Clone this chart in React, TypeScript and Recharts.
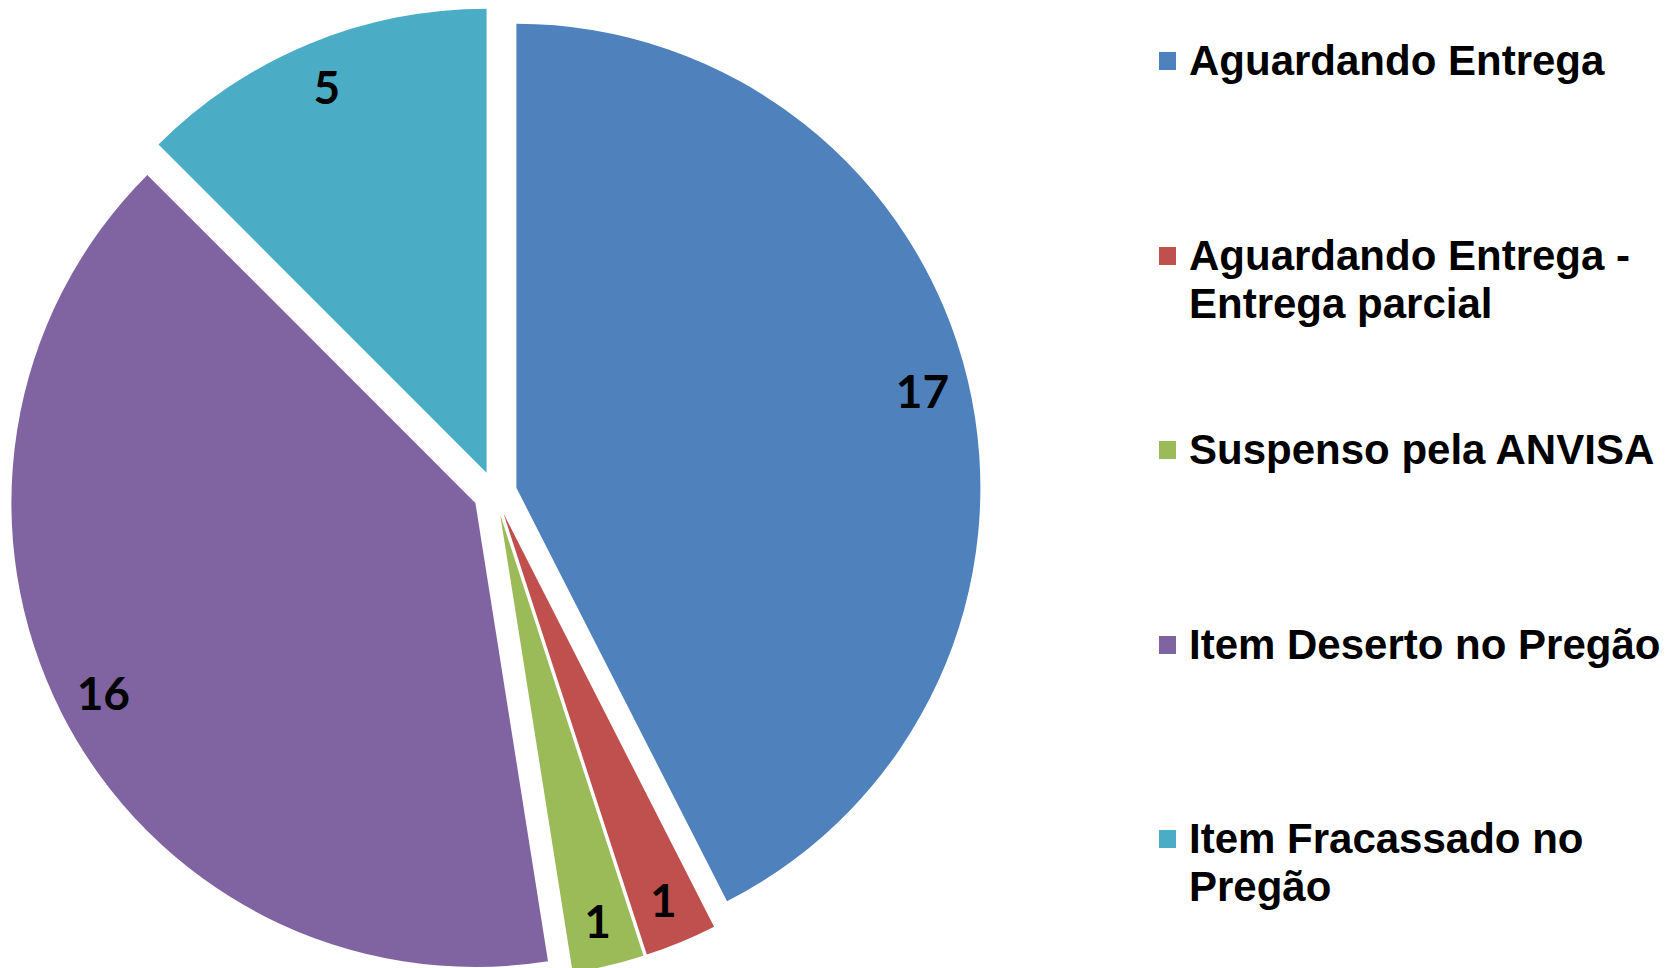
import React from 'react';
import { PieChart, Pie, Cell, Sector, Legend } from 'recharts';

const categories = [
    'Aguardando Entrega',
    'Aguardando Entrega - Entrega parcial',
    'Suspenso pela ANVISA',
    'Item Deserto no Pregão',
    'Item Fracassado no Pregão',
];
const counts = [17, 1, 1, 16, 5];
const colors = ['#4F81BD', '#C0504D', '#9BBB59', '#8064A2', '#4BACC6'];

const chartData = categories.map((name, i) => ({ name, value: counts[i] }));

const RAD = Math.PI / 180;
const EXPLODE = 22;

const ExplodedSector = (props: any) => {
    const { cx, cy, midAngle } = props;
    const dx = EXPLODE * Math.cos(-midAngle * RAD);
    const dy = EXPLODE * Math.sin(-midAngle * RAD);
    return <Sector {...props} cx={cx + dx} cy={cy + dy} stroke="none" />;
};

const renderLabel = (props: any) => {
    const { cx, cy, midAngle, outerRadius, value } = props;
    const r = outerRadius * 0.9 + EXPLODE;
    const x = cx + r * Math.cos(-midAngle * RAD);
    const y = cy + r * Math.sin(-midAngle * RAD);
    return (
        <text
            x={x}
            y={y}
            textAnchor="middle"
            dominantBaseline="central"
            fill="#000"
            style={{ fontFamily: 'Lato, sans-serif', fontWeight: 700, fontSize: 46 }}
        >
            {value}
        </text>
    );
};

// keep legend in data order (recharts 3 sorts by name otherwise)
const renderLegend = (props: any) => {
    const items = [...(props.payload || [])].sort(
        (a: any, b: any) => categories.indexOf(a.value) - categories.indexOf(b.value)
    );
    return (
        <div style={{ fontFamily: '"Liberation Sans", Arial, sans-serif', fontWeight: 700, fontSize: 42 }}>
            {items.map((entry: any, i: number) => (
                <div key={i} style={{ height: 194.5, display: 'flex', alignItems: 'flex-start' }}>
                    <span
                        style={{
                            width: 17,
                            height: 18,
                            background: entry.color,
                            marginTop: 15,
                            marginRight: 13,
                            flex: '0 0 auto',
                        }}
                    />
                    <span style={{ lineHeight: '48px', width: 481, color: '#000' }}>{entry.value}</span>
                </div>
            ))}
        </div>
    );
};

export default function App() {
    return (
        <div style={{ position: 'absolute', left: 0, top: 0, width: 1670, height: 968, background: '#fff' }}>
            <PieChart width={1670} height={968} margin={{ top: 0, right: 0, bottom: 0, left: 0 }}>
                <Pie
                    data={chartData}
                    dataKey="value"
                    nameKey="name"
                    cx={495}
                    cy={493}
                    outerRadius={464}
                    startAngle={90}
                    endAngle={-270}
                    stroke="none"
                    shape={ExplodedSector}
                    label={renderLabel}
                    labelLine={false}
                    isAnimationActive={false}
                >
                    {chartData.map((d, i) => (
                        <Cell key={d.name} fill={colors[i]} />
                    ))}
                </Pie>
                <Legend
                    content={renderLegend}
                    layout="vertical"
                    verticalAlign="top"
                    align="right"
                    wrapperStyle={{ left: 1159, top: 37, width: 511 }}
                />
            </PieChart>
        </div>
    );
}
